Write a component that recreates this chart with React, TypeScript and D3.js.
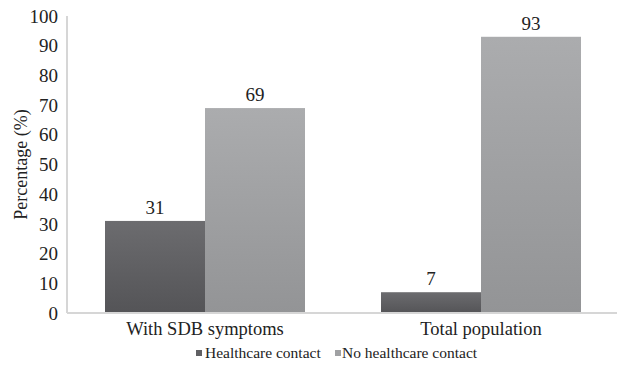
import React from "react";
import * as d3 from "d3";

const categories = ["With SDB symptoms", "Total population"];
const seriesNames = ["Healthcare contact", "No healthcare contact"];
const healthcare = [31, 7];
const noHealthcare = [69, 93];
const yTicks = [0, 10, 20, 30, 40, 50, 60, 70, 80, 90, 100];

const W = 617, H = 367;
const left = 67, right = 619, top = 16, bottom = 313;
const font = "Liberation Serif, serif";

export default function App() {
  const x = d3.scaleBand<string>().domain(categories).range([left, right]).paddingInner(0).paddingOuter(0);
  const inner = d3.scaleBand<string>().domain(seriesNames).range([0, x.bandwidth()]).paddingOuter(0.38).paddingInner(0);
  const y = d3.scaleLinear().domain([0, 100]).range([bottom, top]);
  const series = [healthcare, noHealthcare];
  return (
    <svg width={W} height={H} style={{ position: "absolute", left: 0, top: 0, background: "#fff" }}>
      <defs>
        <linearGradient id="g0" x1="0" y1="0" x2="0" y2="1">
          <stop offset="0" stopColor="#6c6c6f" />
          <stop offset="1" stopColor="#545457" />
        </linearGradient>
        <linearGradient id="g1" x1="0" y1="0" x2="0" y2="1">
          <stop offset="0" stopColor="#abacae" />
          <stop offset="1" stopColor="#939496" />
        </linearGradient>
      </defs>
      {series.map((vals, si) =>
        categories.map((c, ci) => {
          const bx = (x(c) as number) + (inner(seriesNames[si]) as number);
          return (
            <g key={`${si}-${ci}`}>
              <rect x={bx} y={y(vals[ci])} width={inner.bandwidth()} height={bottom - y(vals[ci])} fill={`url(#g${si})`} />
              <text x={bx + inner.bandwidth() / 2} y={y(vals[ci]) - 7} textAnchor="middle" fontFamily={font} fontSize={19} fill="#222">{vals[ci]}</text>
            </g>
          );
        })
      )}
      <line x1={left} x2={left} y1={top} y2={bottom} stroke="#d6d6d6" strokeWidth={2} />
      <line x1={left} x2={W} y1={bottom} y2={bottom} stroke="#d6d6d6" strokeWidth={2} />
      {yTicks.map((t) => (
        <text key={t} x={58} y={y(t)} dy="0.35em" textAnchor="end" fontFamily={font} fontSize={19} fill="#222">{t}</text>
      ))}
      <text transform={`translate(27,${(top + bottom) / 2}) rotate(-90)`} textAnchor="middle" fontFamily={font} fontSize={18} fill="#222">Percentage (%)</text>
      {categories.map((c) => (
        <text key={c} x={(x(c) as number) + x.bandwidth() / 2} y={335} textAnchor="middle" fontFamily={font} fontSize={18.5} fill="#222">{c}</text>
      ))}
      {seriesNames.map((s, i) => {
        const lx = i === 0 ? 196 : 335;
        return (
          <g key={s}>
            <rect x={lx} y={350} width={6} height={6} fill={i === 0 ? "#606063" : "#a0a1a3"} />
            <text x={lx + (i === 0 ? 9 : 7)} y={358} fontFamily={font} fontSize={15.5} fill="#222">{s}</text>
          </g>
        );
      })}
    </svg>
  );
}
